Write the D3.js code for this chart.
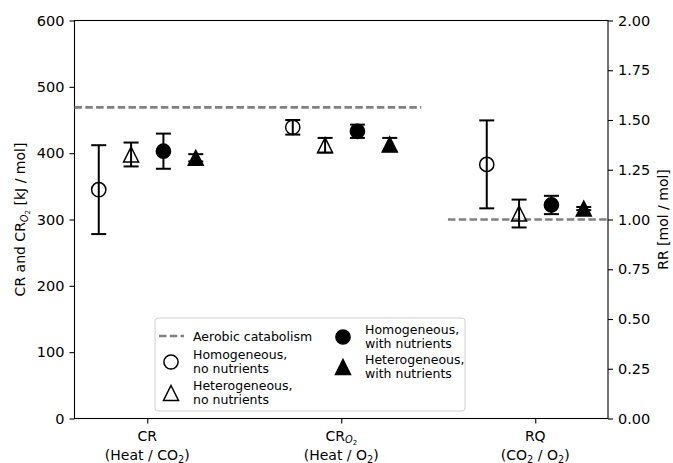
<!DOCTYPE html>
<html>
<head>
<meta charset="utf-8">
<script src="https://cdnjs.cloudflare.com/ajax/libs/d3/7.8.5/d3.min.js"></script>
<style>
  body { margin: 0; background: #fff; }
  text { font-family: "DejaVu Sans", sans-serif; fill: #000; }
</style>
</head>
<body>
<div id="chart"></div>
<script>
// categories along x; CR and CR_O2 read on the left axis, RQ on the right one
var categories = ['CR', 'CRO2', 'RQ'];
var categoryAxis = ['left', 'left', 'right'];

var seriesNames = ['Homogeneous, no nutrients', 'Heterogeneous, no nutrients',
                   'Homogeneous, with nutrients', 'Heterogeneous, with nutrients'];

// values (kJ/mol for CR, CR_O2 ; mol/mol for RQ) and their error bars
var homNoNut    = [345, 439, 1.277];
var homNoNutErr = [67, 11, 0.221];
var hetNoNut    = [398, 412, 1.03];
var hetNoNutErr = [18, 11, 0.07];
var homNut      = [403, 433, 1.073];
var homNutErr   = [26.5, 10, 0.046];
var hetNut      = [393, 413, 1.055];
var hetNutErr   = [5.5, 10, 0.008];

// aerobic catabolism reference: CR (left axis) and RQ (right axis)
var aerobicCR = 469;
var aerobicRQ = 1.0;

var leftTicks  = [0, 100, 200, 300, 400, 500, 600];
var rightTicks = [0, 0.25, 0.5, 0.75, 1.0, 1.25, 1.5, 1.75, 2.0];

var series = [
  {name: seriesNames[0], values: homNoNut, errs: homNoNutErr, shape: 'circle',   filled: false},
  {name: seriesNames[1], values: hetNoNut, errs: hetNoNutErr, shape: 'triangle', filled: false},
  {name: seriesNames[2], values: homNut,   errs: homNutErr,   shape: 'circle',   filled: true},
  {name: seriesNames[3], values: hetNut,   errs: hetNutErr,   shape: 'triangle', filled: true}
];
var offsets = [-0.25, -1 / 12, 1 / 12, 0.25];

var W = 673, H = 463;
var pLeft = 74.5, pRight = 608, pTop = 20.5, pBottom = 418.5;
var fs = 14.5;     // tick text
var xfs = 14;      // category labels
var lfs = 12.5;    // legend text
var ms = 15;       // marker size
var gray = '#808080';

var svg = d3.select('#chart').append('svg')
  .attr('width', W).attr('height', H);

var x = d3.scaleLinear().domain([-0.375, 2.375]).range([pLeft, pRight]);
var yL = d3.scaleLinear().domain([0, 600]).range([pBottom, pTop]);
var yR = d3.scaleLinear().domain([0, 2]).range([pBottom, pTop]);

// axes
var gL = svg.append('g').attr('transform', 'translate(' + pLeft + ',0)')
  .call(d3.axisLeft(yL).tickValues(leftTicks).tickSize(5).tickPadding(5).tickFormat(d3.format('d')));
var gR = svg.append('g').attr('transform', 'translate(' + pRight + ',0)')
  .call(d3.axisRight(yR).tickValues(rightTicks).tickSize(5).tickPadding(5).tickFormat(d3.format('.2f')));
var gX = svg.append('g').attr('transform', 'translate(0,' + pBottom + ')')
  .call(d3.axisBottom(x).tickValues([0, 1, 2]).tickSize(5).tickFormat(''));
[gL, gR, gX].forEach(function(g) {
  g.select('.domain').remove();
  g.selectAll('line').attr('stroke', '#000').attr('stroke-width', 1.1);
  g.selectAll('text').attr('font-size', fs).attr('font-family', '"DejaVu Sans", sans-serif').attr('fill', '#000');
});

// spines
svg.append('rect')
  .attr('x', pLeft).attr('y', pTop).attr('width', pRight - pLeft).attr('height', pBottom - pTop)
  .attr('fill', 'none').attr('stroke', '#000').attr('stroke-width', 1.1);

// x tick labels (two lines, with subscripts)
function sub(t, txt, opts) {
  opts = opts || {};
  var s = t.append('tspan').text(txt)
    .attr('font-size', opts.size || xfs * 0.7)
    .attr('dy', opts.dy || 0);
  if (opts.italic) s.attr('font-style', 'italic');
  return s;
}
var labelY1 = pBottom + 22, labelY2 = pBottom + 41;
var xl = svg.append('g').attr('text-anchor', 'middle').attr('font-size', xfs);

var t = xl.append('text').attr('x', x(0)).attr('y', labelY1).text('CR');
t = xl.append('text').attr('x', x(0)).attr('y', labelY2);
t.append('tspan').text('(Heat / CO');
sub(t, '2', {dy: 3});
t.append('tspan').attr('dy', -3).text(')');

t = xl.append('text').attr('x', x(1)).attr('y', labelY1);
t.append('tspan').text('CR');
sub(t, 'O', {dy: 2.5, italic: true});
sub(t, '2', {dy: 1.5, size: xfs * 0.5});
t = xl.append('text').attr('x', x(1)).attr('y', labelY2);
t.append('tspan').text('(Heat / O');
sub(t, '2', {dy: 3});
t.append('tspan').attr('dy', -3).text(')');

t = xl.append('text').attr('x', x(2)).attr('y', labelY1).text('RQ');
t = xl.append('text').attr('x', x(2)).attr('y', labelY2);
t.append('tspan').text('(CO');
sub(t, '2', {dy: 3});
t.append('tspan').attr('dy', -3).text(' / O');
sub(t, '2', {dy: 3});
t.append('tspan').attr('dy', -3).text(')');

// y axis labels
var ly = svg.append('text')
  .attr('transform', 'translate(24.5,' + ((pTop + pBottom) / 2) + ') rotate(-90)')
  .attr('text-anchor', 'middle').attr('font-size', xfs);
ly.append('tspan').text('CR and CR');
sub(ly, 'O', {dy: 3, italic: true});
sub(ly, '2', {dy: 2, size: xfs * 0.5});
ly.append('tspan').attr('dy', -5).text(' [kJ / mol]');

svg.append('text')
  .attr('transform', 'translate(668,' + ((pTop + pBottom) / 2) + ') rotate(-90)')
  .attr('text-anchor', 'middle').attr('font-size', xfs)
  .text('RR [mol / mol]');

// aerobic catabolism reference lines
svg.append('line')
  .attr('x1', pLeft).attr('x2', pLeft + 0.65 * (pRight - pLeft))
  .attr('y1', yL(aerobicCR)).attr('y2', yL(aerobicCR))
  .attr('stroke', gray).attr('stroke-width', 2.6).attr('stroke-dasharray', '7.5,3.3');
svg.append('line')
  .attr('x1', pLeft + 0.7 * (pRight - pLeft)).attr('x2', pRight)
  .attr('y1', yR(aerobicRQ)).attr('y2', yR(aerobicRQ))
  .attr('stroke', gray).attr('stroke-width', 2.6).attr('stroke-dasharray', '7.5,3.3');

// markers
function drawMarker(g, shape, filled, cx, cy) {
  if (shape === 'circle') {
    g.append('circle').attr('cx', cx).attr('cy', cy).attr('r', ms / 2 - 0.4)
      .attr('fill', filled ? '#000' : 'none').attr('stroke', '#000').attr('stroke-width', 1.5);
  } else {
    var h = ms / 2;
    g.append('path')
      .attr('d', 'M' + cx + ',' + (cy - h) + 'L' + (cx + h) + ',' + (cy + h) + 'L' + (cx - h) + ',' + (cy + h) + 'Z')
      .attr('fill', filled ? '#000' : 'none').attr('stroke', '#000').attr('stroke-width', 1.5)
      .attr('stroke-linejoin', 'miter');
  }
}

var pts = svg.append('g');
series.forEach(function(s, i) {
  categories.forEach(function(c, j) {
    var ys = categoryAxis[j] === 'left' ? yL : yR;
    var cx = x(j + offsets[i]);
    var v = s.values[j], e = s.errs[j];
    var y1 = ys(v + e), y2 = ys(v - e);
    var g = pts.append('g');
    g.append('line').attr('x1', cx).attr('x2', cx).attr('y1', y1).attr('y2', y2)
      .attr('stroke', '#000').attr('stroke-width', 2);
    [y1, y2].forEach(function(yy) {
      g.append('line').attr('x1', cx - 7.5).attr('x2', cx + 7.5).attr('y1', yy).attr('y2', yy)
        .attr('stroke', '#000').attr('stroke-width', 2);
    });
    drawMarker(g, s.shape, s.filled, cx, ys(v));
  });
});

// legend
var lg = svg.append('g');
lg.append('rect')
  .attr('x', 155).attr('y', 318).attr('width', 310).attr('height', 93)
  .attr('rx', 3).attr('fill', '#fff').attr('fill-opacity', 0.8)
  .attr('stroke', '#d0d0d0').attr('stroke-width', 1);

lg.append('line').attr('x1', 159).attr('x2', 184).attr('y1', 336).attr('y2', 336)
  .attr('stroke', gray).attr('stroke-width', 2.6).attr('stroke-dasharray', '7.5,3.3');
lg.append('text').attr('x', 193).attr('y', 340.5).attr('font-size', lfs).text('Aerobic catabolism');

var legendItems = [
  {s: series[0], mx: 171, my: 362, tx: 193, ty: 358.5},
  {s: series[1], mx: 171, my: 393, tx: 193, ty: 389.5},
  {s: series[2], mx: 343, my: 337, tx: 365, ty: 333.5},
  {s: series[3], mx: 343, my: 367, tx: 365, ty: 363.5}
];
legendItems.forEach(function(it) {
  drawMarker(lg, it.s.shape, it.s.filled, it.mx, it.my);
  var parts = it.s.name.split(', ');
  var tt = lg.append('text').attr('x', it.tx).attr('y', it.ty).attr('font-size', lfs);
  tt.append('tspan').attr('x', it.tx).text(parts[0] + ',');
  tt.append('tspan').attr('x', it.tx).attr('dy', 14.2).text(parts[1]);
});
</script>
</body>
</html>
